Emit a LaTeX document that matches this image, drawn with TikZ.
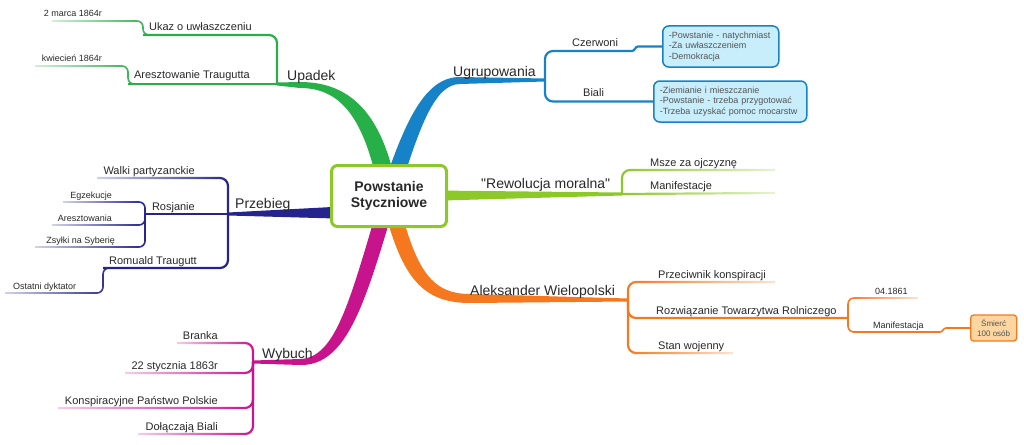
\documentclass[tikz,border=0pt]{standalone}
\usepackage{fontspec}
\setmainfont{Liberation Sans}[Ligatures=TeXOff]
\usetikzlibrary{fadings}
\definecolor{txt}{RGB}{40,40,40}
\definecolor{cgreen}{RGB}{40,176,72}
\definecolor{cblue}{RGB}{22,130,200}
\definecolor{clime}{RGB}{140,200,40}
\definecolor{cnavy}{RGB}{36,36,140}
\definecolor{cmag}{RGB}{200,20,140}
\definecolor{corange}{RGB}{245,120,30}
\definecolor{boxblue}{RGB}{200,238,252}
\definecolor{boxorange}{RGB}{252,214,160}
\tikzfading[name=fadeleft,left color=transparent!80,middle color=transparent!0,right color=transparent!0]
\tikzfading[name=faderight,left color=transparent!0,middle color=transparent!0,right color=transparent!80]

\begin{document}
\begin{tikzpicture}[x=1pt,y=-1pt,
  lbl/.style={text=txt,inner sep=0pt},
  big/.style={lbl,font=\fontsize{14}{16}\selectfont},
  mid/.style={lbl,font=\fontsize{11}{13}\selectfont},
  sml/.style={lbl,font=\fontsize{9}{10}\selectfont},
  lvl2/.style={line width=2.2pt,rounded corners=8pt},
  lvl3/.style={line width=1.6pt,rounded corners=6pt},
  leafl/.style={path fading=fadeleft},
  leafr/.style={path fading=faderight},
  infobox/.style={draw=cblue,fill=boxblue,line width=1.5pt,rounded corners=6pt,
    align=left,inner xsep=6pt,minimum height=41pt,text=txt!80,
    font=\fontsize{9}{10.5}\selectfont}]
\useasboundingbox (0,0) rectangle (1024,444);

% split points
\coordinate (ctr) at (389,196);
\coordinate (upadek) at (277,84);
\coordinate (ugr) at (545,80);
\coordinate (rew) at (622,194);
\coordinate (prz) at (228,214);
\coordinate (wyb) at (253,362);
\coordinate (ale) at (628,300);

% Upadek
\fill[cgreen] ([xshift=-9pt]ctr) .. controls (366,125) and (345,88) .. (300,88)
  -- ([yshift=-1.5pt]upadek) -- ([yshift=1.5pt]upadek)
  -- (300,82) .. controls (355,82) and (385,120) .. ([xshift=9pt]ctr) -- cycle;
\coordinate (ukaz) at (143,35);
\coordinate (marca) at (52,21);
\coordinate (aresz) at (128,84);
\coordinate (kwiec) at (35,66);
\draw[lvl2,cgreen] (upadek) |- (ukaz);
\draw[lvl2,cgreen] (upadek) -- (aresz);
\draw[lvl3,cgreen,leafl] ([xshift=10pt]ukaz) -- (ukaz) |- (marca);
\draw[lvl3,cgreen,leafl] ([xshift=10pt]aresz) -- (aresz) |- (kwiec);
\node[big,anchor=base west] (t-upadek) at (287,81) {Upadek};
\node[mid,anchor=base east] (t-ukaz) at (252,31) {Ukaz o uwłaszczeniu};
\node[sml,anchor=base east] (t-marca) at (102,17) {2 marca 1864r};
\node[mid,anchor=base east] (t-aresz) at (250,78) {Aresztowanie Traugutta};
\node[sml,anchor=base east] (t-kwiec) at (102,62) {kwiecień 1864r};

% Ugrupowania
\fill[cblue] ([xshift=-9pt]ctr) .. controls (405,120) and (425,77) .. (460,77)
  -- ([yshift=1.5pt]ugr) -- ([yshift=-1.5pt]ugr)
  -- (460,84) .. controls (435,84) and (420,125) .. ([xshift=9pt]ctr) -- cycle;
\coordinate (czer) at (630,51);
\node[infobox,text width=104pt,anchor=west] (czbox) at (662,46.5)
  {-Powstanie - natychmiast\\-Za uwłaszczeniem\\-Demokracja};
\node[infobox,text width=141pt,anchor=west] (bbox) at (653,101.5)
  {-Ziemianie i mieszczanie\\-Powstanie - trzeba przygotować\\-Trzeba uzyskać pomoc mocarstw};
\draw[lvl2,cblue] (ugr) |- (czer);
\draw[line width=2.2pt,cblue] (czer) -- ++(2,0) .. controls +(3,0) and +(-3,0) .. ++(6,-4.5)
  -- (czbox.west);
\draw[lvl2,cblue] (ugr) |- (bbox.west);
\node[big,anchor=base west] (t-ugr) at (453,76) {Ugrupowania};
\node[mid,anchor=base west] (t-czer) at (572,47) {Czerwoni};
\node[mid,anchor=base west] (t-biali) at (583,96) {Biali};

% Rewolucja moralna
\fill[clime] ([yshift=6pt]ctr) -- ([yshift=1.5pt]rew) -- ([yshift=-1.5pt]rew)
  -- ([yshift=-6pt]ctr) -- cycle;
\coordinate (msze) at (775,170);
\coordinate (manif) at (775,193);
\draw[lvl2,clime,leafr] (rew) |- (msze);
\draw[lvl2,clime,leafr] (rew) -- (manif);
\node[big,anchor=base west] (t-rew) at (481,188) {"Rewolucja moralna"};
\node[mid,anchor=base west] (t-msze) at (650,166) {Msze za ojczyznę};
\node[mid,anchor=base west] (t-manif) at (650,189) {Manifestacje};

% Przebieg
\fill[cnavy] ([yshift=-8pt]ctr) -- ([yshift=1.5pt]prz) -- ([yshift=-1.5pt]prz)
  -- ([yshift=-24pt]ctr) -- cycle;
\coordinate (walki) at (97,178);
\coordinate (ros) at (145,214);
\coordinate (rom) at (103,268);
\coordinate (egz) at (63,202);
\coordinate (aresz2) at (52,225);
\coordinate (zsy) at (35,247);
\coordinate (ost) at (5,293);
\draw[lvl2,cnavy,leafl] (prz) |- (walki);
\draw[lvl2,cnavy] (prz) -- (ros);
\draw[lvl2,cnavy] (prz) |- (rom);
\draw[lvl3,cnavy,leafl] (ros) |- (egz);
\draw[lvl3,cnavy,leafl] (ros) |- (aresz2);
\draw[lvl3,cnavy,leafl] (ros) |- (zsy);
\draw[lvl3,cnavy,leafl] ([xshift=10pt]rom) -- (rom) |- (ost);
\node[big,anchor=base west] (t-prz) at (235,208) {Przebieg};
\node[mid,anchor=base east] (t-walki) at (195,174) {Walki partyzanckie};
\node[mid,anchor=base east] (t-ros) at (195,210) {Rosjanie};
\node[mid,anchor=base east] (t-rom) at (197,264) {Romuald Traugutt};
\node[sml,anchor=base east] (t-egz) at (112,198) {Egzekucje};
\node[sml,anchor=base east] (t-aresz2) at (112,221) {Aresztowania};
\node[sml,anchor=base east] (t-zsy) at (115,243) {Zsyłki na Syberię};
\node[sml,anchor=base west] (t-ost) at (13,289) {Ostatni dyktator};

% Wybuch
\fill[cmag] ([xshift=8pt]ctr) .. controls (366,300) and (348,366) .. (300,365)
  -- ([yshift=-1.5pt]wyb) -- ([yshift=1.5pt]wyb)
  -- (300,359) .. controls (336,358) and (350,300) .. ([xshift=-8pt]ctr) -- cycle;
\coordinate (bra) at (177,343);
\coordinate (sty) at (125,373);
\coordinate (kon) at (58,408);
\coordinate (dol) at (138,434);
\draw[lvl2,cmag,leafl] (wyb) |- (bra);
\draw[lvl2,cmag,leafl] (wyb) |- (sty);
\draw[lvl2,cmag,leafl] (wyb) |- (kon);
\draw[lvl2,cmag,leafl] (wyb) |- (dol);
\node[big,anchor=base west] (t-wyb) at (262,358) {Wybuch};
\node[mid,anchor=base east] (t-bra) at (218,339) {Branka};
\node[mid,anchor=base east] (t-sty) at (218,369) {22 stycznia 1863r};
\node[mid,anchor=base east] (t-kon) at (218,404) {Konspiracyjne Państwo Polskie};
\node[mid,anchor=base east] (t-dol) at (218,430) {Dołączają Biali};

% Aleksander Wielopolski
\fill[corange] ([xshift=8pt]ctr) .. controls (415,265) and (428,294) .. (470,294)
  -- ([yshift=1.5pt]ale) -- ([yshift=-1.5pt]ale)
  -- (470,303) .. controls (420,303) and (400,275) .. ([xshift=-8pt]ctr) -- cycle;
\coordinate (przec) at (775,282);
\coordinate (roz) at (848,318);
\coordinate (stan) at (733,353);
\coordinate (kw) at (918,298);
\coordinate (mans) at (938,332);
\node[draw=corange,fill=boxorange,line width=1.3pt,rounded corners=3pt,
  minimum width=46pt,minimum height=26pt,align=center,text=txt!80,
  font=\fontsize{8}{9.5}\selectfont,anchor=west] (smbox) at (970,328) {Śmierć\\100 osób};
\draw[lvl2,corange,leafr] (ale) |- (przec);
\draw[lvl2,corange] (ale) |- (roz);
\draw[lvl2,corange,leafr] (ale) |- (stan);
\draw[lvl3,corange,leafr] (roz) |- (kw);
\draw[lvl3,corange] (roz) |- (mans);
\draw[line width=1.6pt,corange] (mans) -- ++(2,0) .. controls +(3,0) and +(-3,0) .. ++(6,-4)
  -- (smbox.west);
\node[big,anchor=base west] (t-ale) at (470,295) {Aleksander Wielopolski};
\node[mid,anchor=base west] (t-przec) at (658,278) {Przeciwnik konspiracji};
\node[mid,anchor=base west] (t-roz) at (656,314) {Rozwiązanie Towarzytwa Rolniczego};
\node[mid,anchor=base west] (t-stan) at (658,349) {Stan wojenny};
\node[sml,anchor=base west] (t-kw) at (875,294) {04.1861};
\node[sml,anchor=base west] (t-mans) at (873,328) {Manifestacja};

% central topic
\node[draw=clime,line width=3pt,fill=white,rounded corners=6pt,minimum width=115pt,
  minimum height=61pt,align=center,text=txt,
  font=\bfseries\fontsize{14}{16}\selectfont] (main) at (ctr) {Powstanie\\Styczniowe};
\end{tikzpicture}
\end{document}
